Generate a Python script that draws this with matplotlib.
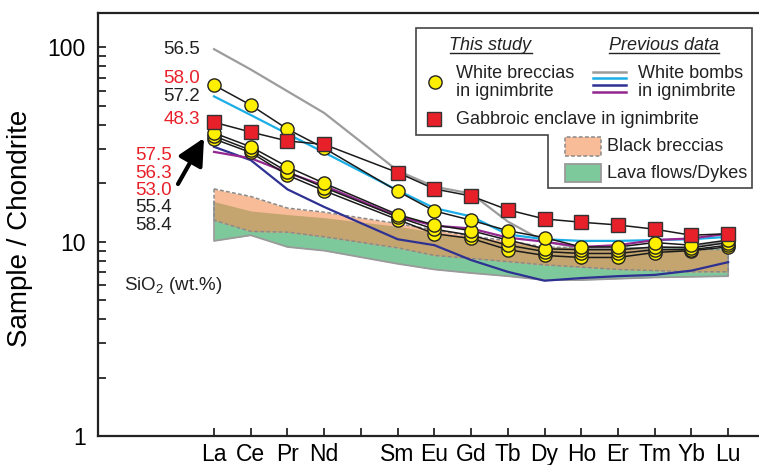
import numpy as np
import matplotlib
matplotlib.use("Agg")
import matplotlib.pyplot as plt
from matplotlib.lines import Line2D
from matplotlib.patches import Polygon, Rectangle

plt.rcParams['font.family'] = ['Liberation Sans', 'DejaVu Sans']
plt.rcParams['mathtext.default'] = 'regular'

OUTPUT_PLOT = "out.png"

# REE order (Pm has a tick but no analyses)
elements = ['La', 'Ce', 'Pr', 'Nd', 'Pm', 'Sm', 'Eu', 'Gd', 'Tb', 'Dy', 'Ho', 'Er', 'Tm', 'Yb', 'Lu']
analysed = ['La', 'Ce', 'Pr', 'Nd', 'Sm', 'Eu', 'Gd', 'Tb', 'Dy', 'Ho', 'Er', 'Tm', 'Yb', 'Lu']

# chondrite-normalised values, this study
breccia_580 = [64.0, 50.5, 38.0, 30.3, 18.2, 14.4, 12.9, 11.4, 10.5, 9.4, 9.4, 9.9, 9.6, 10.2]
breccia_575 = [36.3, 30.8, 24.3, 20.0, 13.8, 12.2, 11.4, 10.2, 9.2, 9.1, 9.1, 9.4, 9.3, 9.9]
breccia_563 = [35.0, 29.6, 22.9, 19.0, 13.4, 11.6, 10.8, 9.6, 8.9, 8.7, 8.7, 9.1, 9.1, 9.6]
breccia_530 = [33.8, 28.8, 22.0, 18.3, 13.0, 11.0, 10.4, 9.1, 8.5, 8.3, 8.3, 8.8, 9.0, 9.4]
enclave_483 = [41.2, 36.7, 33.0, 31.7, 22.7, 18.7, 17.2, 14.6, 13.1, 12.6, 12.2, 11.6, 10.8, 11.0]

# previous data: white bombs in ignimbrite
bomb_565 = [98.0, 77.0, 59.5, 46.0, 23.2, 19.2, 17.7, 12.7, 10.0, 9.3, 9.2, 9.3, 9.4, 10.0]
bomb_572 = [56.0, 44.9, 35.9, 28.8, 18.4, 14.9, 13.5, 10.9, 10.3, 10.1, 10.1, 10.2, 10.3, 10.6]
bomb_554 = [30.8, 26.3, 18.6, 15.1, 10.3, 9.6, 8.05, 7.0, 6.3, 6.5, 6.65, 6.75, 7.1, 7.85]
bomb_584 = [29.0, 26.9, 22.7, 19.4, 13.5, 12.1, 11.7, 10.5, 10.0, 9.4, 9.6, 10.2, 10.4, 11.0]

# fields: black breccias and lava flows/dykes
black_top = [18.7, 17.1, 14.9, 14.2, 12.4, 11.5, 10.7, 10.1, 9.4, 9.3, 9.3, 9.2, 9.1, 9.1]
black_bot = [12.9, 11.3, 11.2, 10.6, 9.3, 8.5, 8.2, 7.9, 7.6, 7.4, 7.2, 7.1, 7.0, 7.0]
lava_top = [16.1, 14.4, 13.8, 13.3, 12.0, 11.2, 10.5, 9.9, 9.4, 9.4, 9.4, 9.4, 9.3, 9.2]
lava_bot = [10.1, 10.8, 9.4, 9.0, 7.7, 7.2, 6.9, 6.65, 6.35, 6.35, 6.45, 6.55, 6.6, 6.65]

# SiO2 labels next to the La end of each pattern
sio2_labels = ['56.5', '58.0', '57.2', '48.3', '57.5', '56.3', '53.0', '55.4', '58.4']
sio2_colors = ['k', 'r', 'k', 'r', 'r', 'r', 'r', 'k', 'k']

YELLOW = '#FFEF00'
RED = '#E8202A'
GRAY = '#9C9C9C'
CYAN = '#1BAEE6'
NAVY = '#2E3192'
PURPLE = '#93278F'
ORANGE = '#F8BC98'
GREEN = '#7EC99C'
OVERLAP = '#C4A56F'

W, H = 759, 465


def px(x, y):
    # pixel position -> figure fraction
    return x / W, 1 - y / H


def main():
    fig = plt.figure(figsize=(W / 100, H / 100), dpi=100)
    ax = fig.add_axes([98 / W, 29 / H, (W - 98) / W, (436 - 12.7) / H])

    xpos = np.array([elements.index(e) for e in analysed])

    # fields
    bt, bb = np.array(black_top), np.array(black_bot)
    lt, lb = np.array(lava_top), np.array(lava_bot)
    ax.fill_between(xpos, lb, lt, color=GREEN, lw=0, zorder=1)
    ax.fill_between(xpos, bb, bt, color=ORANGE, lw=0, zorder=1.1)
    ov_top = np.minimum(bt, lt)
    ov_bot = np.maximum(bb, lb)
    ax.fill_between(xpos, ov_bot, ov_top, where=ov_top > ov_bot, color=OVERLAP,
                    lw=0, zorder=1.2, interpolate=True)
    ax.plot(np.r_[xpos[0], xpos, xpos[-1]], np.r_[lt[0], lb, lt[-1]],
            color='#9A9A9A', lw=1.3, zorder=1.3)
    ax.plot(np.r_[xpos, xpos[::-1], xpos[0]], np.r_[bt, bb[::-1], bt[0]],
            color='#8A8A8A', lw=1.1, ls=(0, (2.5, 1.5)), zorder=1.4)

    # previous data
    for vals, c in [(bomb_565, GRAY), (bomb_572, CYAN), (bomb_554, NAVY), (bomb_584, PURPLE)]:
        ax.plot(xpos, vals, color=c, lw=1.6, zorder=2)

    # this study
    for vals in [breccia_530, breccia_563, breccia_575, breccia_580]:
        ax.plot(xpos, vals, color='#1A1A1A', lw=1.1, marker='o', ms=9.5,
                mfc=YELLOW, mec='#222222', mew=1.0, zorder=3)
    ax.plot(xpos, enclave_483, color='#1A1A1A', lw=1.1, marker='s', ms=10.5,
            mfc=RED, mec='#333333', mew=1.0, zorder=4)

    ax.set_yscale('log')
    ax.set_ylim(1, 151)
    ax.set_xlim(-3.16, 14.84)
    ax.set_yticks([1, 10, 100])
    ax.set_yticklabels(['1', '10', '100'])
    ax.set_xticks(range(len(elements)))
    ax.set_xticklabels([e if e != 'Pm' else '' for e in elements])
    ax.tick_params(axis='y', which='both', direction='in', length=6, width=1.1,
                   labelsize=16.5, pad=9)
    ax.tick_params(axis='x', direction='in', length=5.5, width=1.1, labelsize=16.5, pad=5)
    ax.spines['right'].set_visible(False)
    for s in ['left', 'bottom', 'top']:
        ax.spines[s].set_linewidth(1.6)
        ax.spines[s].set_color('#222222')
    ax.set_ylabel('Sample / Chondrite', fontsize=20)
    ax.yaxis.set_label_coords(-0.099, 0.49)

    # SiO2 labels
    label_y = [49, 78.5, 96.7, 120, 156, 173, 190, 207.5, 225]
    label_x = [200, 200, 200, 200, 171.5, 171.5, 171.5, 171.5, 171.5]
    for s, c, x, y in zip(sio2_labels, sio2_colors, label_x, label_y):
        fig.text(*px(x, y), s, color='#E8202A' if c == 'r' else '#222222',
                 fontsize=13.5, ha='right', va='center')
    fig.text(*px(124, 285), 'SiO$_2$ (wt.%)', fontsize=13.5, ha='left', va='center', color='#222222')
    ax.annotate('', xy=px(204, 138), xytext=px(178, 184), xycoords='figure fraction',
                textcoords='figure fraction',
                arrowprops=dict(arrowstyle='-|>,head_length=0.9,head_width=0.45',
                                lw=3, color='k', mutation_scale=18, shrinkA=0, shrinkB=0))

    # legend box (stepped outline)
    box = [px(415.7, 28.3), px(751.7, 28.3), px(751.7, 188.3), px(548.3, 188.3),
           px(548.3, 135), px(415.7, 135)]
    fig.add_artist(Polygon(box, closed=True, fill=True, fc='white', ec='#444444',
                           lw=1.2, transform=fig.transFigure, zorder=5))

    def ftext(x, y, s, **kw):
        t = fig.text(*px(x, y), s, fontsize=13, color='#222222', va='center', zorder=6, **kw)
        return t

    ftext(490, 46, 'This study', ha='center', style='italic')
    ftext(664, 46, 'Previous data', ha='center', style='italic')
    for x0, x1 in [(450, 531.7), (609.3, 719.3)]:
        fig.add_artist(Line2D([x0 / W, x1 / W], [1 - 53.5 / H] * 2, color='#222222',
                              lw=1.0, transform=fig.transFigure, zorder=6))

    fig.add_artist(Line2D([435 / W], [1 - 81.7 / H], marker='o', ms=9.5, mfc=YELLOW,
                          mec='#222222', mew=1.0, transform=fig.transFigure, zorder=6))
    ftext(456, 73.3, 'White breccias', ha='left')
    ftext(456, 91.7, 'in ignimbrite', ha='left')

    for yy, c in zip([71.7, 78.3, 85, 91.7], [GRAY, CYAN, NAVY, PURPLE]):
        fig.add_artist(Line2D([593.3 / W, 626 / W], [1 - yy / H] * 2, color=c, lw=1.8,
                              transform=fig.transFigure, zorder=6))
    ftext(638.3, 73.3, 'White bombs', ha='left')
    ftext(638.3, 91.7, 'in ignimbrite', ha='left')

    fig.add_artist(Line2D([434.3 / W], [1 - 119 / H], marker='s', ms=10.5, mfc=RED,
                          mec='#333333', mew=1.0, transform=fig.transFigure, zorder=6))
    ftext(456, 119, 'Gabbroic enclave in ignimbrite', ha='left')

    fig.add_artist(Rectangle(px(565, 156), 36 / W, 18.7 / H, fc=ORANGE, ec='#8A8A8A',
                             lw=1.1, ls=(0, (2.5, 1.5)), transform=fig.transFigure, zorder=6))
    ftext(607.3, 146.7, 'Black breccias', ha='left')
    fig.add_artist(Rectangle(px(565, 182.3), 36 / W, 18.3 / H, fc=GREEN, ec='#9A9A9A',
                             lw=1.3, transform=fig.transFigure, zorder=6))
    ftext(607.3, 173, 'Lava flows/Dykes', ha='left')

    fig.savefig(OUTPUT_PLOT, dpi=100)


if __name__ == "__main__":
    main()
